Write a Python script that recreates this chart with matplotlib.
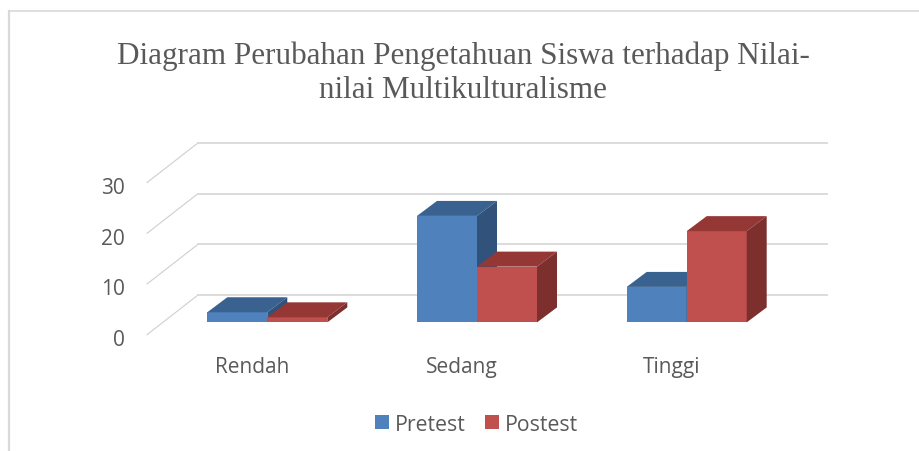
import matplotlib.pyplot as plt
from matplotlib.patches import Polygon, Rectangle

categories = ["Rendah", "Sedang", "Tinggi"]
pretest = [2, 21, 7]
postest = [1, 11, 18]
y_ticks = [0, 10, 20, 30]

title = "Diagram Perubahan Pengetahuan Siswa terhadap Nilai-\nnilai Multikulturalisme"

W, H = 919, 452
# pixel layout of the front plane of the bars
X0, X_STEP = 267.3, 209.7
Y0, Y_UNIT = 323.4, 5.07
BAR_W = 60 / X_STEP
# depth of the bars, in data units
DX, DY = 20 / X_STEP, 15 / Y_UNIT
# wall and floor offsets relative to the bar plane
WALL_DY = 27.4 / Y_UNIT
FLOOR_DY = -12.3 / Y_UNIT
FLOOR_X = (147 - X0) / X_STEP
WALL_X = (198 - X0) / X_STEP
GRID_END = (827 - X0) / X_STEP

TEXT = "#595959"
GRID = "#d9d9d9"
COLORS = {
    "Pretest": ("#4f81bd", "#3a6291", "#31527a"),
    "Postest": ("#c0504d", "#953735", "#7d2f2d"),
}


def px(x):
    return (x - X0) / X_STEP


def py(y):
    return (Y0 - y) / Y_UNIT


def draw_bar(ax, x, v, name, z):
    front, top, side = COLORS[name]
    ax.add_patch(Rectangle((x, 0), BAR_W, v, fc=front, ec="none", zorder=z))
    ax.add_patch(Polygon(
        [(x, v), (x + BAR_W, v), (x + BAR_W + DX, v + DY), (x + DX, v + DY)],
        fc=top, ec="none", zorder=z,
    ))
    ax.add_patch(Polygon(
        [(x + BAR_W, 0), (x + BAR_W + DX, DY), (x + BAR_W + DX, v + DY), (x + BAR_W, v)],
        fc=side, ec="none", zorder=z,
    ))


fig = plt.figure(figsize=(W / 100, H / 100), dpi=100)
ax = fig.add_axes([0, 0, 1, 1])
ax.set_xlim(px(0), px(W))
ax.set_ylim(py(H), py(0))
ax.axis("off")

# chart frame
ax.plot([px(9), px(9)], [py(H), py(11.5)], color=GRID, lw=1.6)
ax.plot([px(9), px(W)], [py(11.5), py(11.5)], color=GRID, lw=1.2)

# gridlines run along the side wall and then along the back wall
for v in y_ticks:
    ax.plot([FLOOR_X, WALL_X], [v + FLOOR_DY, v + WALL_DY], color="#cfcfcf", lw=0.8, zorder=1)
    ax.plot([WALL_X, GRID_END], [v + WALL_DY, v + WALL_DY], color=GRID, lw=1.3, zorder=1)
    ax.text(px(125), v + FLOOR_DY - 0.95, str(v), ha="right", va="center",
            fontsize=15, color=TEXT, family="Open Sans")

for i, cat in enumerate(categories):
    base = i - BAR_W
    draw_bar(ax, base, pretest[i], "Pretest", 3)
    draw_bar(ax, base + BAR_W, postest[i], "Postest", 4)
    ax.text(i - 15 / X_STEP, py(368), cat, ha="center", va="center",
            fontsize=15, color=TEXT, family="Open Sans")

# legend
for name, sx, tx in [("Pretest", 375, 395), ("Postest", 485, 505)]:
    ax.add_patch(Rectangle((px(sx), py(430)), 14 / X_STEP, 14 / Y_UNIT,
                           fc=COLORS[name][0], ec="none"))
    ax.text(px(tx), py(425.5), name, ha="left", va="center",
            fontsize=15.3, color=TEXT, family="Open Sans")

ax.text(px(463), py(73.5), title, ha="center", va="center",
        fontsize=22.45, color=TEXT, family="Liberation Serif", linespacing=1.22)

fig.savefig("out.png", dpi=100)
